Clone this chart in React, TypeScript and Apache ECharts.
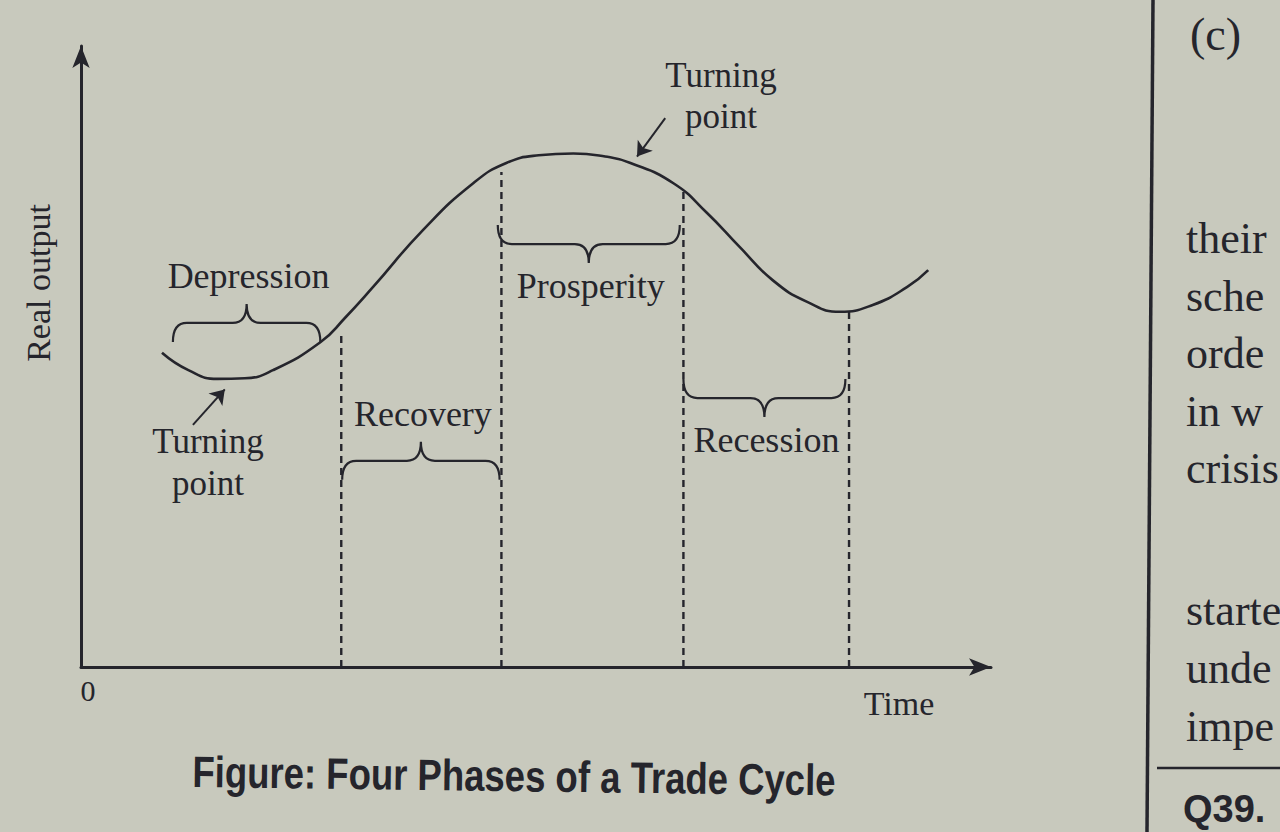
import React, { useEffect, useRef } from "react";
import * as echarts from "echarts";

// ---- data (x: time 0..100, y: real output 0..100) ----
const cycleCurve: [number, number][] = [
  [8.9, 50.6], [11.8, 47.8], [15.0, 46.4], [18.0, 46.5], [21.1, 47.8],
  [26.3, 52.3], [29.0, 56.2], [32.1, 61.2], [37.6, 70.4], [43.1, 77.9],
  [46.8, 81.2], [50.3, 82.4], [54.1, 82.7], [57.6, 82.2], [60.3, 81.2],
  [65.1, 77.9], [68.8, 73.1], [72.4, 67.6], [76.0, 62.3], [79.8, 58.8],
  [83.4, 57.2], [87.0, 58.3], [90.8, 61.2], [93.1, 63.9],
];

const dividerX = [28.6, 46.2, 66.2, 84.4];
const dividerTop = [53.5, 79.7, 77.1, 57.2];

const phaseNames = ["Depression", "Recovery", "Prosperity", "Recession"];
const braceStart = [10.1, 28.7, 45.8, 66.2];
const braceEnd = [26.3, 46.0, 65.8, 84.0];
const braceLevel = [55.4, 33.2, 68.1, 43.3];
const braceDir = [1, 1, -1, -1]; // 1 = tip points up, -1 = tip points down

const arrowFrom: [number, number][] = [[64.2, 88.4], [12.3, 39.0]];
const arrowTo: [number, number][] = [[61.1, 82.2], [15.8, 44.7]];

const turningLabel = "Turning\npoint";
const xAxisName = "Time";
const yAxisName = "Real output";
const originLabel = "0";
const caption = "Figure: Four Phases of a Trade Cycle";
const sideLines = ["their", "sche", "orde", "in w", "crisis", "starte", "unde", "impe"];
const sideLineY = [238, 296, 353, 411, 468, 610, 668, 726];
const questionLabel = "Q39.";

// ---- styles ----
const INK = "#25252c";
const PAPER = "#c8c9bd";
const SERIF = "'Liberation Serif', 'Times New Roman', serif";
const SANS = "'Liberation Sans', Arial, sans-serif";

function buildOption() {
  const dividerSeries = dividerX.map((x, i) => ({
    type: "line",
    data: [[x, 0], [x, dividerTop[i]]],
    showSymbol: false,
    silent: true,
    lineStyle: { color: INK, width: 2.4, type: [7, 5] },
    z: 2,
  }));

  const braceData = braceStart.map((s, i) => [s, braceEnd[i], braceLevel[i], braceDir[i], i]);

  return {
    animation: false,
    backgroundColor: PAPER,
    grid: { left: 81, right: 289, top: 46, bottom: 165 },
    xAxis: {
      type: "value",
      min: 0,
      max: 100,
      axisLine: {
        show: true,
        onZero: false,
        symbol: ["none", "arrow"],
        symbolSize: [13, 22],
        lineStyle: { color: INK, width: 3 },
      },
      axisTick: { show: false },
      axisLabel: { show: false },
      splitLine: { show: false },
    },
    yAxis: {
      type: "value",
      min: 0,
      max: 100,
      axisLine: {
        show: true,
        onZero: false,
        symbol: ["none", "arrow"],
        symbolSize: [13, 22],
        lineStyle: { color: INK, width: 3 },
      },
      axisTick: { show: false },
      axisLabel: { show: false },
      splitLine: { show: false },
    },
    series: [
      {
        type: "line",
        data: cycleCurve,
        smooth: 0.5,
        showSymbol: false,
        silent: true,
        lineStyle: { color: INK, width: 2.6 },
        z: 3,
        markLine: {
          silent: true,
          symbol: ["none", "arrow"],
          symbolSize: 14,
          label: { show: false },
          lineStyle: { color: INK, width: 2, type: "solid" },
          data: arrowFrom.map((f, i) => [{ coord: f }, { coord: arrowTo[i] }]),
        },
      },
      ...dividerSeries,
      {
        type: "custom",
        silent: true,
        data: braceData,
        encode: { x: [0, 1], y: 2 },
        z: 4,
        renderItem: (params: any, api: any) => {
          const p1 = api.coord([api.value(0), api.value(2)]);
          const p2 = api.coord([api.value(1), api.value(2)]);
          const s = api.value(3);
          const idx = api.value(4);
          const Y = p1[1];
          const xa = p1[0];
          const xb = p2[0];
          const xm = (xa + xb) / 2;
          const h = 19;
          const r = 14;
          const endY = Y + s * h;
          const tipY = Y - s * h;
          const d =
            `M${xa},${endY} Q${xa},${Y} ${xa + r},${Y} L${xm - r},${Y} ` +
            `Q${xm},${Y} ${xm},${tipY} Q${xm},${Y} ${xm + r},${Y} ` +
            `L${xb - r},${Y} Q${xb},${Y} ${xb},${endY}`;
          const labelY = s > 0 ? tipY - 28 : tipY + 23;
          return {
            type: "group",
            children: [
              {
                type: "path",
                shape: { pathData: d },
                style: { stroke: INK, fill: "none", lineWidth: 2.2 },
              },
              {
                type: "text",
                style: {
                  text: phaseNames[idx],
                  x: xm + 2,
                  y: labelY,
                  fill: INK,
                  fontSize: 36,
                  fontFamily: SERIF,
                  align: "center",
                  verticalAlign: "middle",
                },
              },
            ],
          };
        },
      },
    ],
    graphic: [
      {
        type: "text",
        x: 721,
        y: 96,
        style: { text: turningLabel, fill: INK, fontSize: 35, lineHeight: 41, fontFamily: SERIF, align: "center", verticalAlign: "middle" },
      },
      {
        type: "text",
        x: 208,
        y: 462,
        style: { text: turningLabel, fill: INK, fontSize: 35, lineHeight: 42, fontFamily: SERIF, align: "center", verticalAlign: "middle" },
      },
      {
        type: "text",
        x: 88,
        y: 690,
        style: { text: originLabel, fill: INK, fontSize: 30, fontFamily: SERIF, align: "center", verticalAlign: "middle" },
      },
      {
        type: "text",
        x: 899,
        y: 703,
        style: { text: xAxisName, fill: INK, fontSize: 34, fontFamily: SERIF, align: "center", verticalAlign: "middle" },
      },
      {
        type: "text",
        x: 38,
        y: 283,
        rotation: Math.PI / 2,
        style: { text: yAxisName, fill: INK, fontSize: 34, fontFamily: SERIF, align: "center", verticalAlign: "middle" },
      },
      {
        type: "text",
        x: 514,
        y: 776,
        scaleX: 0.83,
        rotation: -0.013,
        style: { text: caption, fill: INK, fontSize: 44, fontWeight: "bold", fontFamily: SANS, align: "center", verticalAlign: "middle" },
      },
      {
        type: "line",
        shape: { x1: 1153, y1: 0, x2: 1147, y2: 832 },
        style: { stroke: INK, lineWidth: 3.5 },
      },
      {
        type: "line",
        shape: { x1: 1157, y1: 768, x2: 1280, y2: 768 },
        style: { stroke: INK, lineWidth: 2.5 },
      },
      {
        type: "text",
        x: 1190,
        y: 34,
        style: { text: "(c)", fill: INK, fontSize: 46, fontFamily: SERIF, align: "left", verticalAlign: "middle" },
      },
      ...sideLines.map((t, i) => ({
        type: "text",
        x: 1186,
        y: sideLineY[i],
        style: { text: t, fill: INK, fontSize: 44, fontFamily: SERIF, align: "left", verticalAlign: "middle" },
      })),
      {
        type: "text",
        x: 1183,
        y: 809,
        style: { text: questionLabel, fill: INK, fontSize: 38, fontWeight: "bold", fontFamily: SANS, align: "left", verticalAlign: "middle" },
      },
    ],
  };
}

export default function App() {
  const ref = useRef<HTMLDivElement>(null);
  useEffect(() => {
    document.body.style.margin = "0";
    const chart = echarts.init(ref.current as HTMLDivElement, null, { renderer: "svg" });
    chart.setOption(buildOption() as any);
    return () => chart.dispose();
  }, []);
  return <div ref={ref} style={{ width: 1280, height: 832 }} />;
}
